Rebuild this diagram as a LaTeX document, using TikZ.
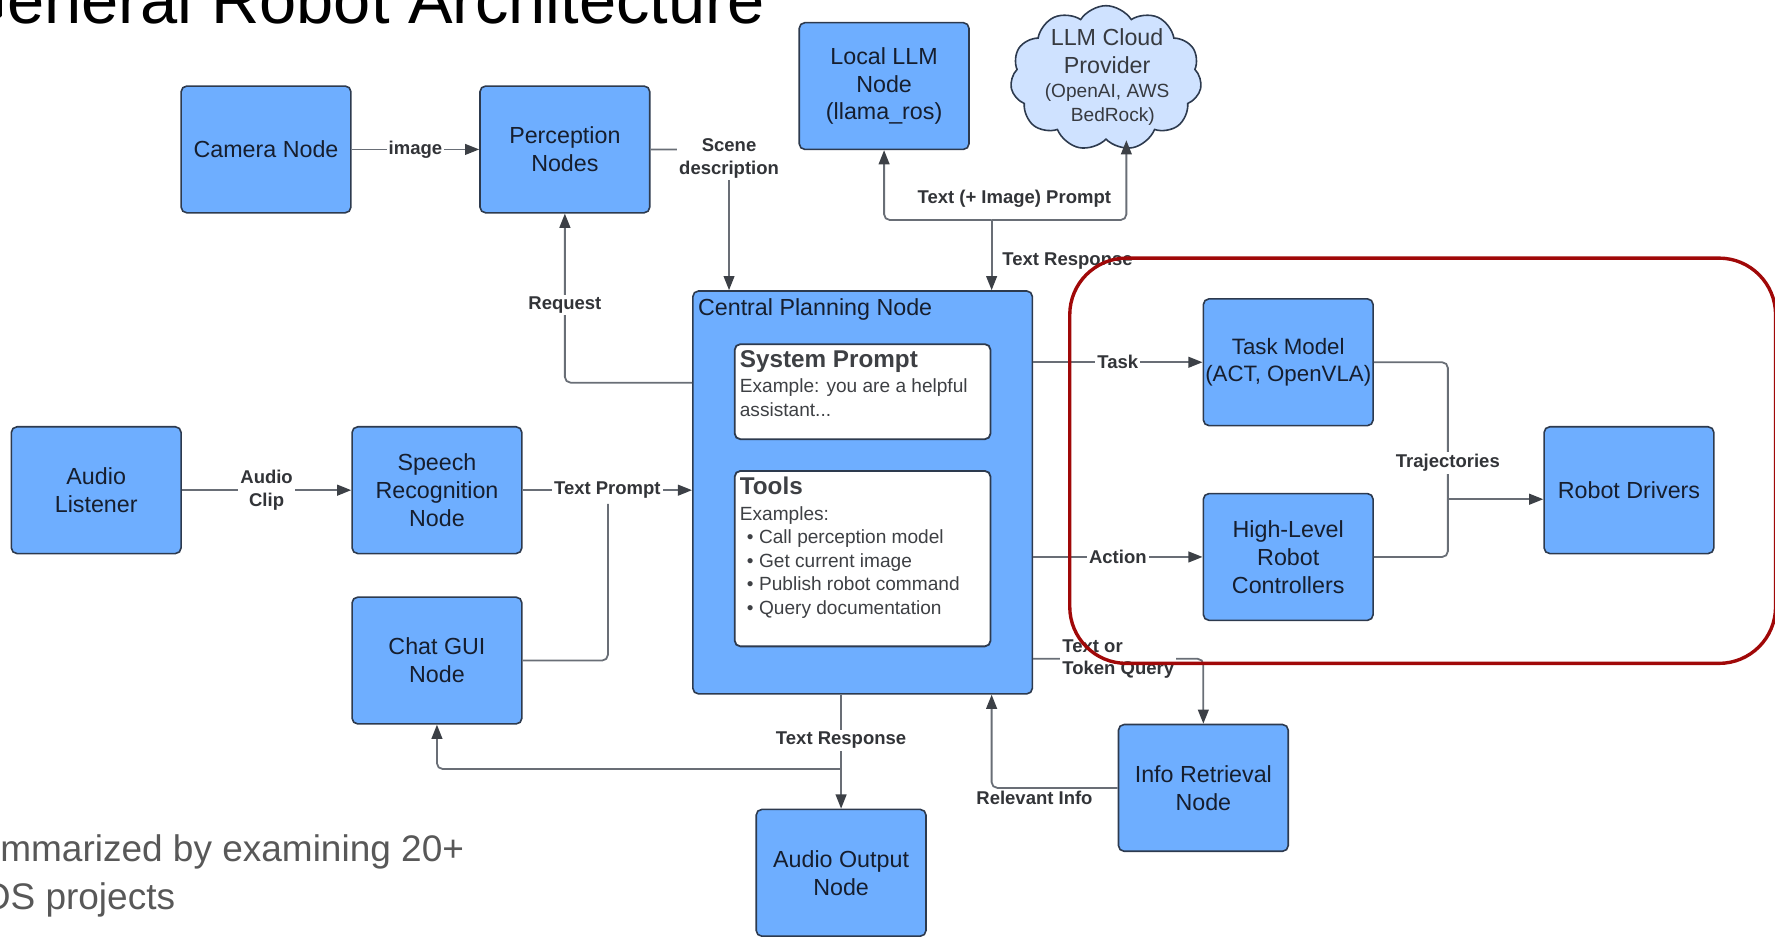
\documentclass[tikz,border=0pt]{standalone}
\usepackage{fontspec}
\setmainfont{Liberation Sans}
\usetikzlibrary{arrows.meta,positioning,shapes.symbols}

\definecolor{nodeblue}{RGB}{110,174,255}
\definecolor{nodeedge}{RGB}{45,58,78}
\definecolor{nodetext}{RGB}{22,30,46}
\definecolor{cloudblue}{RGB}{207,226,255}
\definecolor{cloudtext}{RGB}{55,58,64}
\definecolor{linegray}{RGB}{105,110,118}
\definecolor{tipgray}{RGB}{60,64,70}
\definecolor{lbltext}{RGB}{50,52,56}
\definecolor{innertext}{RGB}{62,64,68}
\definecolor{framered}{RGB}{160,8,8}
\definecolor{notegray}{RGB}{88,88,88}

\newcommand{\blkfont}{\fontsize{11.7}{14}\selectfont}
\newcommand{\lblfont}{\fontsize{9.3}{11.2}\selectfont\bfseries}
\newcommand{\smlfont}{\fontsize{9.6}{11.8}\selectfont}
\newcommand{\headfont}{\fontsize{12.2}{14}\selectfont\bfseries}

\begin{document}
\begin{tikzpicture}[x=0.02cm,y=-0.02cm,
  blk/.style={draw=nodeedge, fill=nodeblue, line width=0.8pt, rounded corners=0.1cm, minimum width=3cm, minimum height=2.24cm, align=center, text=nodetext, font=\blkfont, inner sep=2pt},
  wbox/.style={draw=nodeedge, fill=white, line width=0.9pt, rounded corners=0.1cm},
  wire/.style={draw=linegray, line width=0.9pt, rounded corners=0.1cm},
  conn/.style={wire, -{Triangle[length=0.25cm, width=0.19cm, color=tipgray]}},
  lbltxt/.style={inner sep=1pt, text=lbltext, font=\lblfont, align=center, rounded corners=0pt},
  lbl/.style={lbltxt, fill=white},
  redframe/.style={draw=framered, line width=1.7pt, rounded corners=1cm}]

\useasboundingbox (0,0) rectangle (1568,829);
\clip (0,0) rectangle (1568,829);

% slide text
\node[anchor=base west, inner sep=0pt, font=\fontsize{33.6}{40}\selectfont] (title) at (-40,21) {General Robot Architecture};
\node[anchor=base west, inner sep=0pt, text=notegray, font=\fontsize{18.6}{24}\selectfont] (note1) at (-40,761) {Summarized by examining 20+};
\node[anchor=base west, inner sep=0pt, text=notegray, font=\fontsize{18.6}{24}\selectfont] (note2) at (-40,803) {ROS projects};

% blocks
\node[blk] (cam) at (235,132) {Camera Node};
\node[blk] (perc) at (499,132) {Perception\\Nodes};
\node[blk] (llm) at (781,76) {Local LLM\\Node\\(llama\_ros)};
\node[cloud, cloud puffs=11, cloud puff arc=115, draw=nodeedge, fill=cloudblue, line width=0.8pt, minimum width=3.38cm, minimum height=2.56cm, inner sep=0pt] (cloud) at (977,69) {};
\node[align=center, inner sep=0pt, text=cloudtext, font=\blkfont] (cloudtxt) at (978,68) {LLM Cloud\\Provider\\[-2pt]{\smlfont (OpenAI, AWS}\\[-2pt]{\smlfont\hspace*{0.6em}BedRock)}};
\node[blk] (listener) at (85,433) {Audio\\Listener};
\node[blk] (speech) at (386,433) {Speech\\Recognition\\Node};
\node[blk] (chat) at (386,583.5) {Chat GUI\\Node};
\node[blk, inner xsep=0pt, font=\fontsize{11.2}{14}\selectfont] (task) at (1138,320) {Task Model\\(ACT, OpenVLA)};
\node[blk] (hlc) at (1138,492) {High-Level\\Robot\\Controllers};
\node[blk] (drivers) at (1439,433) {Robot Drivers};
\node[blk] (info) at (1063,696) {Info Retrieval\\Node};
\node[blk] (audioout) at (743,771) {Audio Output\\Node};

% central planner
\node[blk, minimum width=6cm, minimum height=7.12cm] (central) at (762,435) {};
\node[anchor=north west, inner sep=0pt, text=nodetext, font=\blkfont] (centtitle) at ([xshift=0.1cm,yshift=-0.14cm]central.north west) {Central Planning Node};
\node[wbox, minimum width=4.52cm, minimum height=1.68cm] (sysbox) at (762,346) {};
\node[anchor=north west, align=left, inner sep=0pt, text=innertext, font=\smlfont] (systxt) at ([xshift=0.1cm,yshift=-0.12cm]sysbox.north west) {{\headfont System Prompt}\\[1pt]Example: you are a helpful\\assistant...};
\node[wbox, minimum width=4.52cm, minimum height=3.1cm] (toolbox) at (762,493.5) {};
\node[anchor=north west, align=left, inner sep=0pt, text=innertext, font=\smlfont] (tooltxt) at ([xshift=0.1cm,yshift=-0.12cm]toolbox.north west) {{\headfont Tools}\\[1pt]Examples:\\
  \hspace*{3.5pt}\textbullet\hspace{2.8pt}Call perception model\\
  \hspace*{3.5pt}\textbullet\hspace{2.8pt}Get current image\\
  \hspace*{3.5pt}\textbullet\hspace{2.8pt}Publish robot command\\
  \hspace*{3.5pt}\textbullet\hspace{2.8pt}Query documentation};

% perception
\draw[conn] (cam) -- node[lbl] (imglbl) {image} (perc);
\draw[conn] (perc.east) -| node[lbl, pos=0.5, yshift=-0.16cm] (scenelbl) {Scene\\description} ([xshift=-2.36cm]central.north);
\draw[conn] ([yshift=1.94cm]central.west) -| node[lbl, pos=0.73] (reqlbl) {Request} (perc.south);

% speech and chat input
\draw[conn] (listener) -- node[lbl] (cliplbl) {Audio\\Clip} (speech);
\draw[wire] (chat.east) -| (537,445);
\draw[conn] (speech) -- node[lbl] (tplbl) {Text Prompt} (central.west |- speech);

% llm calls
\coordinate (split) at ([xshift=2.28cm,yshift=1.24cm]central.north);
\draw[conn] (split) -| (llm.south);
\draw[conn] (split) -| ([xshift=0.36cm]cloud.south);
\draw[conn] (split) -- node[lbltxt, right=0.14cm, pos=0.58] (resplbl) {Text Response} ([xshift=2.28cm]central.north);
\node[lbltxt] (promptlbl) at (896,176) {Text (+ Image) Prompt};

% robot side
\draw[conn] (central.east |- task) -- node[lbl] (tasklbl) {Task} (task);
\draw[conn] (central.east |- hlc) -- node[lbl] (actlbl) {Action} (hlc);
\coordinate (trj) at (1279,441);
\draw[wire] (task.east) -| (trj);
\draw[wire] (hlc.east) -| (trj);
\draw[conn] (trj) -- (drivers.west |- trj);
\node[lbl] (trjlbl) at (1279,409) {Trajectories};

% retrieval
\draw[conn] ([yshift=-2.94cm]central.east) -| node[lbl, align=left, pos=0.25] (qlbl) {Text or\\Token Query} (info.north);
\draw[conn] (info.west) -| node[lbltxt, below, pos=0.33] (rellbl) {Relevant Info} ([xshift=2.28cm]central.south);

% output
\coordinate[above=0.7cm of audioout.north] (outsplit);
\draw[conn] (outsplit) -| (chat.south);
\draw[conn] (audioout.north |- central.south) -- node[lbl, pos=0.4] (resp2lbl) {Text Response} (audioout.north);

% highlighted part
\draw[redframe] (945,228) rectangle (1568.5,586);

\end{tikzpicture}
\end{document}
